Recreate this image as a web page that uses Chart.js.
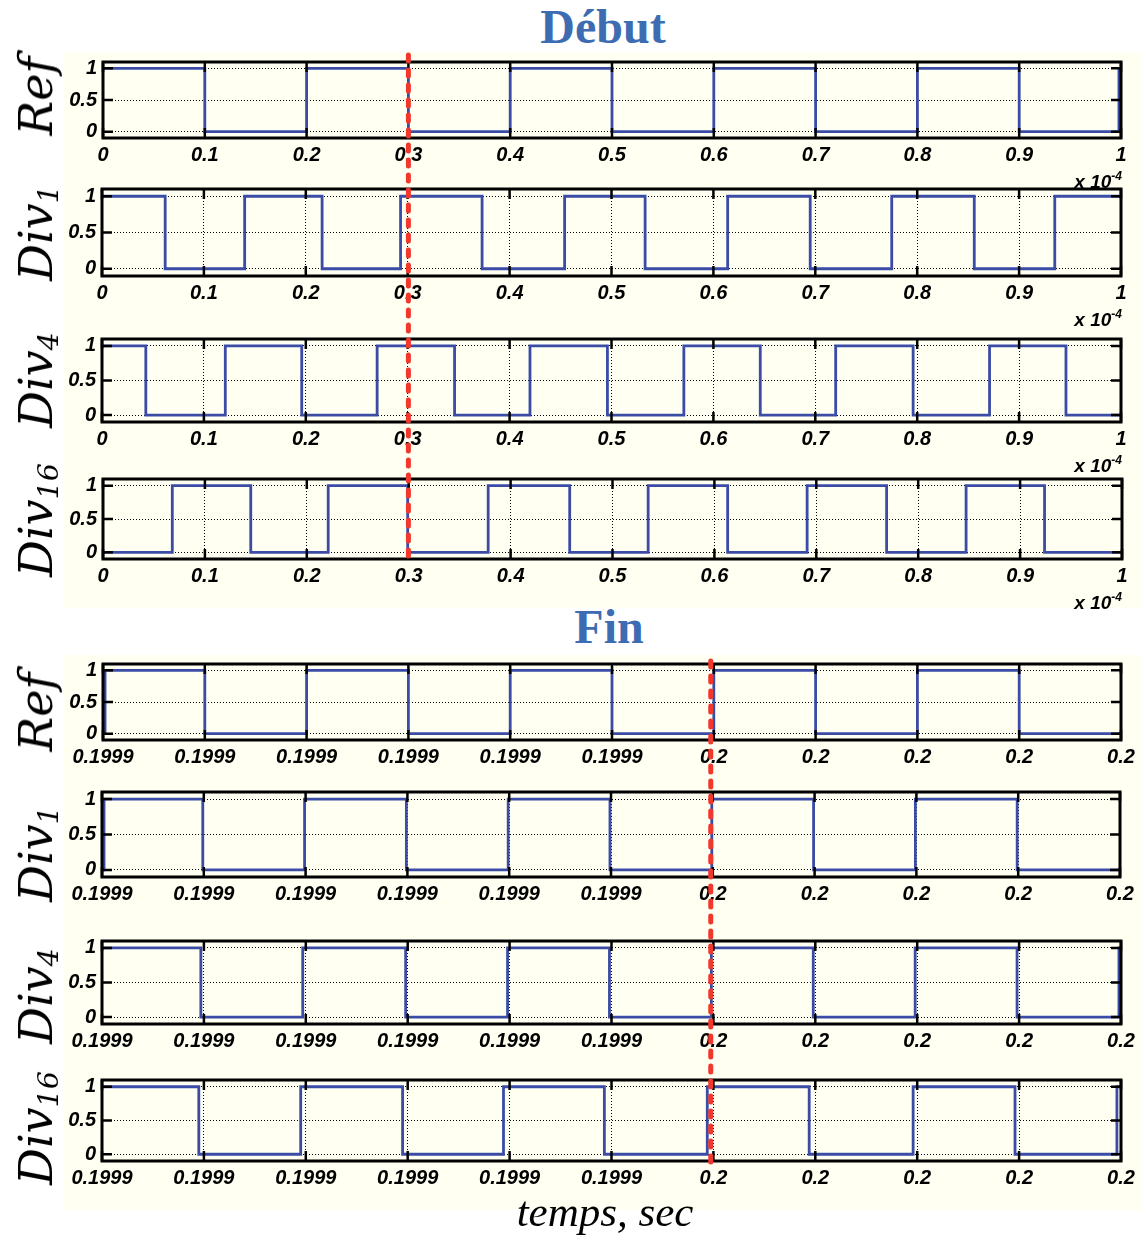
<!DOCTYPE html>
<html>
<head>
<meta charset="utf-8">
<script src="https://cdn.jsdelivr.net/npm/chart.js@4"></script>
<style>
  body { margin:0; width:1148px; height:1238px; background:#fff; position:relative; overflow:hidden; }
  .band { position:absolute; background:#fffff2; }
  .title { position:absolute; font:bold 48px "Liberation Serif", serif; color:#3d6cb3; line-height:48px; white-space:nowrap; transform:translateX(-50%); }
  .ylab { position:absolute; font:italic 46px "DejaVu Serif", serif; line-height:46px; white-space:nowrap; transform:translate(-50%,-50%) rotate(-90deg); }
  .ylab sub { font-size:0.62em; vertical-align:-0.22em; line-height:0; }
  .mult { position:absolute; font:italic bold 19px "Liberation Sans", Arial, sans-serif; line-height:19px; white-space:nowrap; transform:translateX(-100%); }
  .mult sup { font-size:12px; vertical-align:8px; line-height:0; }
  .xlab { position:absolute; font:italic 43px "Liberation Serif", serif; line-height:43px; white-space:nowrap; transform:translateX(-50%); }
  canvas { position:absolute; }
  #overlay { left:0; top:0; pointer-events:none; z-index:5; }
</style>
</head>
<body>
<div class="band" style="left:64px;top:52px;width:1078px;height:556px"></div>
<div class="band" style="left:64px;top:655px;width:1078px;height:555px"></div>
<canvas id="overlay"></canvas>
<script>
// tick labels
const tickPositions = [0, 0.1, 0.2, 0.3, 0.4, 0.5, 0.6, 0.7, 0.8, 0.9, 1];
const debutTickLabels = ['0', '0.1', '0.2', '0.3', '0.4', '0.5', '0.6', '0.7', '0.8', '0.9', '1'];
const finTickLabels = ['0.1999', '0.1999', '0.1999', '0.1999', '0.1999', '0.1999', '0.2', '0.2', '0.2', '0.2', '0.2'];
const yTickValues = [0, 0.5, 1];
const yTickLabels = ['0', '0.5', '1'];
const signalNames = ['Ref', 'Div', 'Div', 'Div'];
const signalSubs = ['', '1', '4', '16'];
const groupTitles = ['Début', 'Fin'];

// Début (x 10^-4 s): time of each level change, and the new level
const refDebutT = [0, 0.1, 0.2, 0.3, 0.4, 0.5, 0.6, 0.7, 0.8, 0.9, 0.998, 1];
const refDebutV = [1, 0, 1, 0, 1, 0, 1, 0, 1, 0, 1, 1];
const div1DebutT = [0, 0.062, 0.140, 0.216, 0.293, 0.373, 0.454, 0.533, 0.614, 0.695, 0.775, 0.856, 0.935, 1];
const div1DebutV = [1, 0, 1, 0, 1, 0, 1, 0, 1, 0, 1, 0, 1, 1];
const div4DebutT = [0, 0.043, 0.121, 0.196, 0.270, 0.346, 0.420, 0.496, 0.571, 0.646, 0.720, 0.796, 0.871, 0.946, 1];
const div4DebutV = [1, 0, 1, 0, 1, 0, 1, 0, 1, 0, 1, 0, 1, 0, 0];
const div16DebutT = [0, 0.068, 0.145, 0.221, 0.299, 0.378, 0.458, 0.535, 0.613, 0.691, 0.769, 0.847, 0.924, 1];
const div16DebutV = [0, 1, 0, 1, 0, 1, 0, 1, 0, 1, 0, 1, 0, 0];

// Fin (tick index units, labels 0.1999 .. 0.2)
const refFinT = [0, 0.002, 0.1, 0.2, 0.3, 0.4, 0.5, 0.6, 0.7, 0.8, 0.9, 1];
const refFinV = [0, 1, 0, 1, 0, 1, 0, 1, 0, 1, 0, 0];
const div1FinT = [0, 0.002, 0.099, 0.199, 0.299, 0.399, 0.499, 0.599, 0.699, 0.799, 0.899, 1];
const div1FinV = [0, 1, 0, 1, 0, 1, 0, 1, 0, 1, 0, 0];
const div4FinT = [0, 0.097, 0.197, 0.298, 0.398, 0.498, 0.598, 0.698, 0.798, 0.898, 0.998, 1];
const div4FinV = [1, 0, 1, 0, 1, 0, 1, 0, 1, 0, 1, 1];
const div16FinT = [0, 0.095, 0.195, 0.295, 0.394, 0.493, 0.594, 0.694, 0.796, 0.896, 0.996, 1];
const div16FinV = [1, 0, 1, 0, 1, 0, 1, 0, 1, 0, 1, 1];

// red dashed markers
const markerDebut = 0.3;
const markerFin = 0.597;

const BLUE = '#3a4ca6';
const RED = '#f2382c';
const TICK_FONT = { family: '"Liberation Sans", Arial, sans-serif', size: 20, weight: 'bold', style: 'italic' };
const AX_W = 45, AX_H = 34, PAD_T = 8, PAD_R = 30, TICK_LEN = 10;

const panels = [
  { t: refDebutT,   v: refDebutV,   labels: debutTickLabels, L: 103, T: 62,   R: 1121, B: 138,  name: 0, labY: 96,   mult: true },
  { t: div1DebutT,  v: div1DebutV,  labels: debutTickLabels, L: 102, T: 189,  R: 1121, B: 276,  name: 1, labY: 233,  mult: true },
  { t: div4DebutT,  v: div4DebutV,  labels: debutTickLabels, L: 102, T: 339,  R: 1121, B: 422,  name: 2, labY: 380,  mult: true },
  { t: div16DebutT, v: div16DebutV, labels: debutTickLabels, L: 103, T: 479,  R: 1122, B: 559,  name: 3, labY: 520,  mult: true },
  { t: refFinT,     v: refFinV,     labels: finTickLabels,   L: 103, T: 664,  R: 1121, B: 740,  name: 0, labY: 712,  mult: false },
  { t: div1FinT,    v: div1FinV,    labels: finTickLabels,   L: 102, T: 792,  R: 1120, B: 877,  name: 1, labY: 854,  mult: false },
  { t: div4FinT,    v: div4FinV,    labels: finTickLabels,   L: 102, T: 941,  R: 1121, B: 1024, name: 2, labY: 996,  mult: false },
  { t: div16FinT,   v: div16FinV,   labels: finTickLabels,   L: 102, T: 1080, R: 1121, B: 1161, name: 3, labY: 1128, mult: false }
];

// MATLAB-like box with inward ticks
const frame = {
  id: 'frame',
  afterDraw(chart) {
    const { ctx, chartArea: a, scales: { x, y } } = chart;
    ctx.save();
    ctx.strokeStyle = '#000';
    ctx.lineWidth = 2.5;
    ctx.beginPath();
    x.ticks.forEach(tk => {
      const px = x.getPixelForValue(tk.value);
      ctx.moveTo(px, a.bottom); ctx.lineTo(px, a.bottom - TICK_LEN);
      ctx.moveTo(px, a.top); ctx.lineTo(px, a.top + TICK_LEN);
    });
    y.ticks.forEach(tk => {
      const py = y.getPixelForValue(tk.value);
      ctx.moveTo(a.left, py); ctx.lineTo(a.left + TICK_LEN, py);
      ctx.moveTo(a.right, py); ctx.lineTo(a.right - TICK_LEN, py);
    });
    ctx.stroke();
    ctx.lineWidth = 3;
    ctx.strokeRect(a.left, a.top, a.right - a.left, a.bottom - a.top);
    ctx.restore();
  }
};

function addDiv(cls, html, left, top) {
  const d = document.createElement('div');
  d.className = cls;
  d.innerHTML = html;
  d.style.left = left + 'px';
  d.style.top = top + 'px';
  document.body.appendChild(d);
  return d;
}

function makeChart(p) {
  const c = document.createElement('canvas');
  const W = p.R - p.L + AX_W + PAD_R, H = p.B - p.T + PAD_T + AX_H;
  c.width = W; c.height = H;
  c.style.width = W + 'px'; c.style.height = H + 'px';
  c.style.left = (p.L - AX_W) + 'px'; c.style.top = (p.T - PAD_T) + 'px';
  document.body.appendChild(c);
  return new Chart(c.getContext('2d'), {
    type: 'line',
    data: {
      datasets: [{
        data: p.t.map((x, i) => ({ x: x, y: p.v[i] })),
        stepped: 'before',
        borderColor: BLUE,
        borderWidth: 2.8,
        pointRadius: 0,
        fill: false
      }]
    },
    options: {
      responsive: false,
      animation: false,
      devicePixelRatio: 1,
      layout: { padding: { top: PAD_T, right: PAD_R, left: 0, bottom: 0 } },
      plugins: { legend: { display: false }, tooltip: { enabled: false } },
      scales: {
        x: {
          type: 'linear', min: 0, max: 1,
          afterBuildTicks: s => { s.ticks = tickPositions.map(v => ({ value: v })); },
          afterFit: s => { s.height = AX_H; s.paddingLeft = 0; s.paddingRight = 0; },
          ticks: { autoSkip: false, maxRotation: 0, padding: 5, color: '#000', font: TICK_FONT,
                   callback: (v, i) => p.labels[i] },
          grid: { color: '#000', lineWidth: 1, drawTicks: false },
          border: { display: false, dash: [1, 2] }
        },
        y: {
          type: 'linear', min: -0.1, max: 1.1,
          afterBuildTicks: s => { s.ticks = yTickValues.map(v => ({ value: v })); },
          afterFit: s => { s.width = AX_W; s.paddingTop = 0; s.paddingBottom = 0; },
          ticks: { padding: 6, color: '#000', font: TICK_FONT, callback: (v, i) => yTickLabels[i] },
          grid: { color: '#000', lineWidth: 1, drawTicks: false },
          border: { display: false, dash: [1, 2] }
        }
      }
    },
    plugins: [frame]
  });
}

const charts = panels.map(p => {
  const ch = makeChart(p);
  addDiv('ylab', signalNames[p.name] + (signalSubs[p.name] ? '<sub>' + signalSubs[p.name] + '</sub>' : ''), 36, p.labY);
  if (p.mult) addDiv('mult', 'x 10<sup>-4</sup>', 1122, p.B + 34);
  return ch;
});

addDiv('title', groupTitles[0], 603, 3);
addDiv('title', groupTitles[1], 609, 603);
addDiv('xlab', 'temps, sec', 605, 1190);

// red dashed markers drawn across each group
const ov = document.getElementById('overlay');
ov.width = 1148; ov.height = 1238;
ov.style.width = '1148px'; ov.style.height = '1238px';
const octx = ov.getContext('2d');
function marker(chart, xv, y0, y1) {
  const px = chart.canvas.offsetLeft + chart.scales.x.getPixelForValue(xv);
  octx.save();
  octx.strokeStyle = RED;
  octx.lineWidth = 5;
  octx.lineCap = 'round';
  octx.setLineDash([6, 9]);
  octx.beginPath();
  octx.moveTo(px, y0);
  octx.lineTo(px, y1);
  octx.stroke();
  octx.restore();
}
marker(charts[0], markerDebut, 55, 562);
marker(charts[4], markerFin, 661, 1168);
</script>
</body>
</html>
